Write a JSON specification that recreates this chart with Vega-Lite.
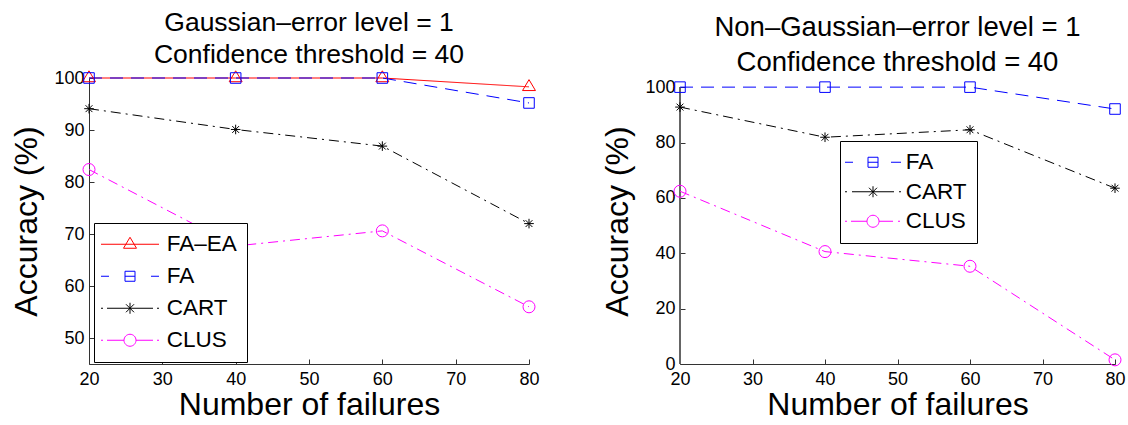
{
  "$schema": "https://vega.github.io/schema/vega-lite/v6.json",
  "padding": {"left": 10, "top": 10, "right": 5, "bottom": 5},
  "background": "white",
  "config": {
    "view": {"stroke": null},
    "font": "Liberation Sans",
    "axis": {
      "grid": false,
      "labelFont": "Liberation Sans",
      "labelFontSize": 18,
      "labelColor": "#000",
      "labelFlush": false,
      "labelOverlap": false,
      "titleFont": "Liberation Sans",
      "titleFontSize": 32,
      "titleFontWeight": "normal",
      "titleColor": "#000",
      "domainColor": "#333",
      "tickColor": "#333",
      "tickSize": -5,
      "labelPadding": 10
    },
    "legend": {
      "orient": "none", "title": null, "strokeColor": "#000", "fillColor": "#fff",
      "labelFont": "Liberation Sans", "labelFontSize": 22.5, "labelColor": "#000",
      "symbolSize": 4, "symbolStrokeWidth": 1, "symbolOpacity": 1, "labelOffset": 21.5
    },
    "title": {"font": "Liberation Sans", "fontWeight": "normal", "color": "#000", "anchor": "middle"}
  },
  "resolve": {
    "scale": {"color": "independent", "strokeDash": "independent", "shape": "independent"},
    "legend": {"color": "independent", "shape": "independent"}
  },
  "datasets": {
    "gauss": [
      {"failures": 20, "accuracy": 100, "method": "FA–EA"},
      {"failures": 40, "accuracy": 100, "method": "FA–EA"},
      {"failures": 60, "accuracy": 100, "method": "FA–EA"},
      {"failures": 80, "accuracy": 98.3, "method": "FA–EA"},
      {"failures": 20, "accuracy": 100, "method": "FA"},
      {"failures": 40, "accuracy": 100, "method": "FA"},
      {"failures": 60, "accuracy": 100, "method": "FA"},
      {"failures": 80, "accuracy": 95.2, "method": "FA"},
      {"failures": 20, "accuracy": 94.1, "method": "CART"},
      {"failures": 40, "accuracy": 90.1, "method": "CART"},
      {"failures": 60, "accuracy": 86.9, "method": "CART"},
      {"failures": 80, "accuracy": 72.0, "method": "CART"},
      {"failures": 20, "accuracy": 82.4, "method": "CLUS"},
      {"failures": 40, "accuracy": 67.7, "method": "CLUS"},
      {"failures": 60, "accuracy": 70.6, "method": "CLUS"},
      {"failures": 80, "accuracy": 56.0, "method": "CLUS"}
    ],
    "nongauss": [
      {"failures": 20, "accuracy": 100, "method": "FA"},
      {"failures": 40, "accuracy": 100, "method": "FA"},
      {"failures": 60, "accuracy": 100, "method": "FA"},
      {"failures": 80, "accuracy": 92.1, "method": "FA"},
      {"failures": 20, "accuracy": 92.8, "method": "CART"},
      {"failures": 40, "accuracy": 81.9, "method": "CART"},
      {"failures": 60, "accuracy": 84.6, "method": "CART"},
      {"failures": 80, "accuracy": 63.5, "method": "CART"},
      {"failures": 20, "accuracy": 62.4, "method": "CLUS"},
      {"failures": 40, "accuracy": 40.6, "method": "CLUS"},
      {"failures": 60, "accuracy": 35.3, "method": "CLUS"},
      {"failures": 80, "accuracy": 1.5, "method": "CLUS"}
    ]
  },
  "hconcat": [
    {
      "width": 440,
      "height": 286,
      "title": {"text": ["Gaussian–error level = 1", "Confidence threshold = 40"], "fontSize": 26.5, "lineHeight": 32, "offset": 0},
      "data": {"name": "gauss"},
      "encoding": {
        "x": {"field": "failures", "type": "quantitative", "scale": {"domain": [20, 80], "nice": false}, "axis": {"values": [20, 30, 40, 50, 60, 70, 80], "title": "Number of failures", "titlePadding": 1, "labelPadding": 11}},
        "y": {"field": "accuracy", "type": "quantitative", "scale": {"domain": [45, 100], "nice": false, "zero": false}, "axis": {"values": [50, 60, 70, 80, 90, 100], "title": "Accuracy (%)", "titlePadding": 10}}
      },
      "resolve": {"scale": {"color": "independent", "shape": "independent"}, "legend": {"color": "independent", "shape": "independent"}},
      "layer": [
        {
          "mark": {"type": "line", "strokeWidth": 1},
          "encoding": {
            "color": {"field": "method", "type": "nominal", "scale": {"domain": ["FA–EA", "FA", "CART", "CLUS"], "range": ["#ff0000", "#0000ff", "#000000", "#ff00ff"]}, "legend": null},
            "strokeDash": {"field": "method", "type": "nominal", "scale": {"domain": ["FA–EA", "FA", "CART", "CLUS"], "range": [[1, 0], [13, 8], [10, 5, 2, 5], [10, 5, 2, 5]]}, "legend": null}
          }
        },
        {
          "mark": {"type": "point", "filled": false, "size": 144, "strokeWidth": 1, "opacity": 1},
          "encoding": {
            "color": {"field": "method", "type": "nominal", "scale": {"domain": ["FA–EA", "FA", "CART", "CLUS"], "range": ["#ff0000", "#0000ff", "#000000", "#ff00ff"]}, "legend": null},
            "shape": {"field": "method", "type": "nominal", "scale": {"domain": ["FA–EA", "FA", "CART", "CLUS"], "range": ["M-1.08,0.62L0,-1.2L1.08,0.62Z", "M-0.88,-0.88H0.88V0.88H-0.88Z", "M0,-0.8V0.8M-0.8,0H0.8M-0.57,-0.57L0.57,0.57M-0.57,0.57L0.57,-0.57", "circle"]}, "legend": null}
          }
        },
        {
          "mark": {"type": "point", "filled": false, "size": 4, "strokeWidth": 1, "opacity": 0},
          "encoding": {
            "color": {"field": "method", "type": "nominal", "scale": {"domain": ["FA–EA", "FA", "CART", "CLUS"], "range": ["#ff0000", "#0000ff", "#000000", "#ff00ff"]},
              "legend": {"legendX": 5, "legendY": 145, "padding": 10, "symbolOffset": 14.75, "labelOffset": 25.5, "rowPadding": 9}},
            "shape": {"field": "method", "type": "nominal", "scale": {"domain": ["FA–EA", "FA", "CART", "CLUS"], "range": [
              "M-29,0H29M-6.5,4L0,-7L6.5,4Z",
              "M-29,0H-21M-5,0H5M21,0H29M-5,-5H5V5H-5Z",
              "M-29,0H-27M-23,0H23M27,0H29M0,-5.5V5.5M-4,-4L4,4M-4,4L4,-4",
              "M-29,0H-27M-23,0H-6M6,0H23M27,0H29M6,0A6,6 0 1,1 -6,0A6,6 0 1,1 6,0"]},
              "legend": {"legendX": 5, "legendY": 145, "padding": 10, "symbolOffset": 14.75, "labelOffset": 25.5, "rowPadding": 9}}
          }
        }
      ]
    },
    {
      "width": 435,
      "height": 286,
      "title": {"text": ["Non–Gaussian–error level = 1", "Confidence threshold = 40"], "fontSize": 27.5, "lineHeight": 35, "offset": 2},
      "data": {"name": "nongauss"},
      "encoding": {
        "x": {"field": "failures", "type": "quantitative", "scale": {"domain": [20, 80], "nice": false}, "axis": {"values": [20, 30, 40, 50, 60, 70, 80], "title": "Number of failures", "titlePadding": 1, "labelPadding": 11}},
        "y": {"field": "accuracy", "type": "quantitative", "scale": {"domain": [0, 103.3], "nice": false, "zero": false}, "axis": {"values": [0, 20, 40, 60, 80, 100], "title": "Accuracy (%)", "titlePadding": 10, "domain": false}}
      },
      "resolve": {"scale": {"color": "independent", "shape": "independent"}, "legend": {"color": "independent", "shape": "independent"}},
      "layer": [
        {
          "mark": {"type": "rule", "strokeWidth": 1.5},
          "encoding": {"x": {"datum": 20}, "y": {"datum": 0}, "y2": {"datum": 100}, "color": {"value": "#666"}}
        },
        {
          "mark": {"type": "line", "strokeWidth": 1},
          "encoding": {
            "color": {"field": "method", "type": "nominal", "scale": {"domain": ["FA", "CART", "CLUS"], "range": ["#0000ff", "#000000", "#ff00ff"]}, "legend": null},
            "strokeDash": {"field": "method", "type": "nominal", "scale": {"domain": ["FA", "CART", "CLUS"], "range": [[13, 8], [10, 5, 2, 5], [10, 5, 2, 5]]}, "legend": null}
          }
        },
        {
          "mark": {"type": "point", "filled": false, "size": 144, "strokeWidth": 1, "opacity": 1},
          "encoding": {
            "color": {"field": "method", "type": "nominal", "scale": {"domain": ["FA", "CART", "CLUS"], "range": ["#0000ff", "#000000", "#ff00ff"]}, "legend": null},
            "shape": {"field": "method", "type": "nominal", "scale": {"domain": ["FA", "CART", "CLUS"], "range": ["M-0.88,-0.88H0.88V0.88H-0.88Z", "M0,-0.8V0.8M-0.8,0H0.8M-0.57,-0.57L0.57,0.57M-0.57,0.57L0.57,-0.57", "circle"]}, "legend": null}
          }
        },
        {
          "mark": {"type": "point", "filled": false, "size": 4, "strokeWidth": 1, "opacity": 0},
          "encoding": {
            "color": {"field": "method", "type": "nominal", "scale": {"domain": ["FA", "CART", "CLUS"], "range": ["#0000ff", "#000000", "#ff00ff"]},
              "legend": {"legendX": 160, "legendY": 63, "padding": 10, "symbolOffset": 11.75, "rowPadding": 6.5}},
            "shape": {"field": "method", "type": "nominal", "scale": {"domain": ["FA", "CART", "CLUS"], "range": [
              "M-28,0H-20M-5,0H5M18,0H28M-5,-5H5V5H-5Z",
              "M-28,0H-26M-21,0H21M26,0H28M0,-5.5V5.5M-4,-4L4,4M-4,4L4,-4",
              "M-28,0H-26M-22,0H-6M6,0H20M25,0H27M6,0A6,6 0 1,1 -6,0A6,6 0 1,1 6,0"]},
              "legend": {"legendX": 160, "legendY": 63, "padding": 10, "symbolOffset": 11.75, "rowPadding": 6.5}}
          }
        }
      ]
    }
  ],
  "spacing": 151,
  "bounds": "flush"
}
